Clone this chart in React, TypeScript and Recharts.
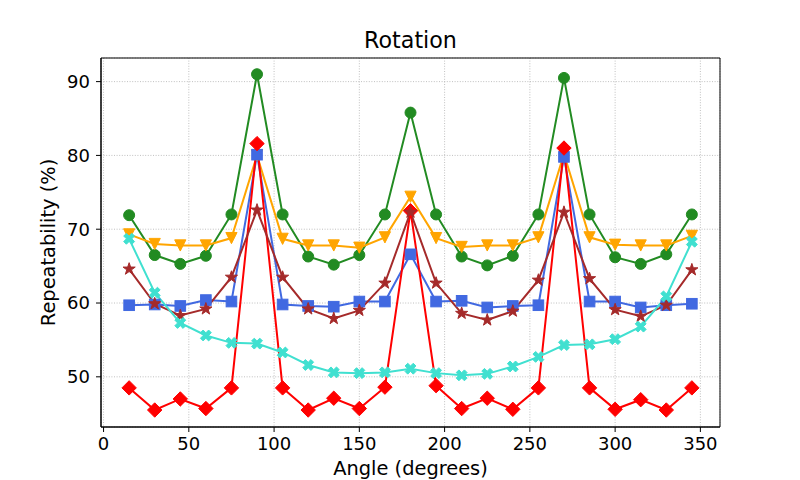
import React from 'react';
import { LineChart, Line, XAxis, YAxis, CartesianGrid, ReferenceArea } from 'recharts';

const angles = [15, 30, 45, 60, 75, 90, 105, 120, 135, 150, 165, 180, 195, 210, 225, 240, 255, 270, 285, 300, 315, 330, 345];
const greenVals = [71.9, 66.5, 65.3, 66.4, 72.0, 91.0, 72.0, 66.3, 65.2, 66.5, 72.0, 85.8, 72.0, 66.3, 65.1, 66.4, 72.0, 90.5, 72.0, 66.2, 65.3, 66.6, 72.0];
const orangeVals = [69.3, 68.0, 67.8, 67.8, 68.8, 80.0, 68.7, 67.8, 67.8, 67.5, 68.9, 74.4, 68.8, 67.6, 67.8, 67.8, 68.9, 80.2, 68.9, 67.9, 67.8, 67.8, 69.1];
const blueVals = [59.7, 59.8, 59.6, 60.4, 60.2, 80.1, 59.8, 59.6, 59.5, 60.2, 60.2, 66.6, 60.2, 60.3, 59.4, 59.6, 59.7, 79.8, 60.2, 60.2, 59.4, 59.7, 59.9];
const redVals = [48.5, 45.5, 47.0, 45.7, 48.5, 81.6, 48.5, 45.5, 47.1, 45.7, 48.6, 72.5, 48.8, 45.7, 47.1, 45.6, 48.5, 81.0, 48.5, 45.6, 46.9, 45.5, 48.5];
const brownVals = [64.6, 59.9, 58.3, 59.2, 63.5, 72.6, 63.5, 59.2, 57.9, 59.0, 62.7, 72.3, 62.7, 58.6, 57.7, 58.9, 63.1, 72.3, 63.3, 59.1, 58.2, 59.7, 64.5];
const turqVals = [68.7, 61.4, 57.3, 55.6, 54.6, 54.5, 53.3, 51.6, 50.6, 50.5, 50.6, 51.1, 50.5, 50.2, 50.4, 51.4, 52.7, 54.3, 54.4, 55.1, 56.8, 60.9, 68.3];

const xTicks = [0, 50, 100, 150, 200, 250, 300, 350];
const yTicks = [50, 60, 70, 80, 90];
const xDomain = [-1.5, 361.5];
const yDomain = [43.2, 93.2];

const title = 'Rotation';
const xLabel = 'Angle (degrees)';
const yLabel = 'Repeatability (%)';

const data = angles.map((a, i) => ({
  angle: a,
  green: greenVals[i],
  orange: orangeVals[i],
  blue: blueVals[i],
  red: redVals[i],
  brown: brownVals[i],
  turq: turqVals[i],
}));

const FONT = '"DejaVu Sans", sans-serif';

const pts = (arr: number[][]) => arr.map((p) => `${p[0]},${p[1]}`).join(' ');

const circleDot = (color: string) => (p: any) => {
  if (p.cx == null || p.cy == null) return <g key={p.index} />;
  return <circle key={p.index} cx={p.cx} cy={p.cy} r={5.5} fill={color} stroke={color} strokeWidth={1} />;
};
const squareDot = (color: string) => (p: any) => {
  if (p.cx == null || p.cy == null) return <g key={p.index} />;
  return <rect key={p.index} x={p.cx - 5.3} y={p.cy - 5.3} width={10.6} height={10.6} fill={color} stroke={color} strokeWidth={1} />;
};
const diamondDot = (color: string) => (p: any) => {
  if (p.cx == null || p.cy == null) return <g key={p.index} />;
  const s = 7.2;
  return <polygon key={p.index} points={pts([[p.cx, p.cy - s], [p.cx + s, p.cy], [p.cx, p.cy + s], [p.cx - s, p.cy]])} fill={color} stroke={color} strokeWidth={1} />;
};
const triDownDot = (color: string) => (p: any) => {
  if (p.cx == null || p.cy == null) return <g key={p.index} />;
  const s = 5.6;
  return <polygon key={p.index} points={pts([[p.cx - s, p.cy - s], [p.cx + s, p.cy - s], [p.cx, p.cy + s]])} fill={color} stroke={color} strokeWidth={1} />;
};
const starDot = (color: string) => (p: any) => {
  if (p.cx == null || p.cy == null) return <g key={p.index} />;
  const R = 6.4, r = 2.5;
  const arr: number[][] = [];
  for (let k = 0; k < 10; k++) {
    const ang = -Math.PI / 2 + (k * Math.PI) / 5;
    const rr = k % 2 === 0 ? R : r;
    arr.push([p.cx + rr * Math.cos(ang), p.cy + rr * Math.sin(ang)]);
  }
  return <polygon key={p.index} points={pts(arr)} fill={color} stroke={color} strokeWidth={1} />;
};
const xDot = (color: string) => (p: any) => {
  if (p.cx == null || p.cy == null) return <g key={p.index} />;
  const L = 5.8, a = 1.9;
  const plus = [[a, L], [a, a], [L, a], [L, -a], [a, -a], [a, -L], [-a, -L], [-a, -a], [-L, -a], [-L, a], [-a, a], [-a, L]];
  const c = Math.SQRT1_2;
  const arr = plus.map(([x, y]) => [p.cx + (x - y) * c, p.cy + (x + y) * c]);
  return <polygon key={p.index} points={pts(arr)} fill={color} stroke={color} strokeWidth={1} />;
};

const series = [
  { key: 'green', color: '#228B22', dot: circleDot },
  { key: 'orange', color: '#FFA500', dot: triDownDot },
  { key: 'blue', color: '#4169E1', dot: squareDot },
  { key: 'red', color: '#FF0000', dot: diamondDot },
  { key: 'brown', color: '#A52A2A', dot: starDot },
  { key: 'turq', color: '#40E0D0', dot: xDot },
];

export default function App() {
  return (
    <div style={{ position: 'absolute', left: 0, top: 0, width: 800, height: 480, background: '#fff', fontFamily: FONT }}>
      <LineChart width={800} height={480} data={data} margin={{ top: 58, right: 80, bottom: 0, left: 0 }} style={{ fontFamily: FONT }}>
        <CartesianGrid stroke="#b0b0b0" strokeWidth={0.8} strokeDasharray="1 1.6" />
        <XAxis
          dataKey="angle"
          type="number"
          domain={xDomain}
          ticks={xTicks}
          allowDataOverflow
          height={53}
          stroke="#000"
          tickSize={5}
          tickMargin={5}
          tick={{ fill: '#000', fontSize: 18, fontFamily: FONT }}
          label={(props: any) => {
            const vb = props.viewBox || { x: 101, width: 619, y: 427 };
            return (
              <g>
                <text x={vb.x + vb.width / 2} y={475} textAnchor="middle" fontSize={19.4} fill="#000" fontFamily={FONT}>{xLabel}</text>
                <text x={vb.x + vb.width / 2} y={48} textAnchor="middle" fontSize={22.2} fill="#000" fontFamily={FONT}>{title}</text>
              </g>
            );
          }}
        />
        <YAxis
          type="number"
          domain={yDomain}
          ticks={yTicks}
          allowDataOverflow
          width={101}
          stroke="#000"
          tickSize={5}
          tickMargin={6}
          tick={{ fill: '#000', fontSize: 18, fontFamily: FONT }}
          label={(props: any) => {
            const vb = props.viewBox || { y: 58, height: 369 };
            const cy = vb.y + vb.height / 2;
            return (
              <text x={48} y={cy} transform={`rotate(-90, 48, ${cy})`} textAnchor="middle" dominantBaseline="central" fontSize={19.4} fill="#000" fontFamily={FONT}>{yLabel}</text>
            );
          }}
        />
        <ReferenceArea x1={xDomain[0]} x2={xDomain[1]} y1={yDomain[0]} y2={yDomain[1]} fill="none" stroke="#000" strokeWidth={1} ifOverflow="visible" />
        {series.map((s) => (
          <Line
            key={s.key}
            type="linear"
            dataKey={s.key}
            stroke={s.color}
            strokeWidth={2}
            dot={s.dot(s.color)}
            activeDot={false}
            isAnimationActive={false}
          />
        ))}
      </LineChart>
    </div>
  );
}
